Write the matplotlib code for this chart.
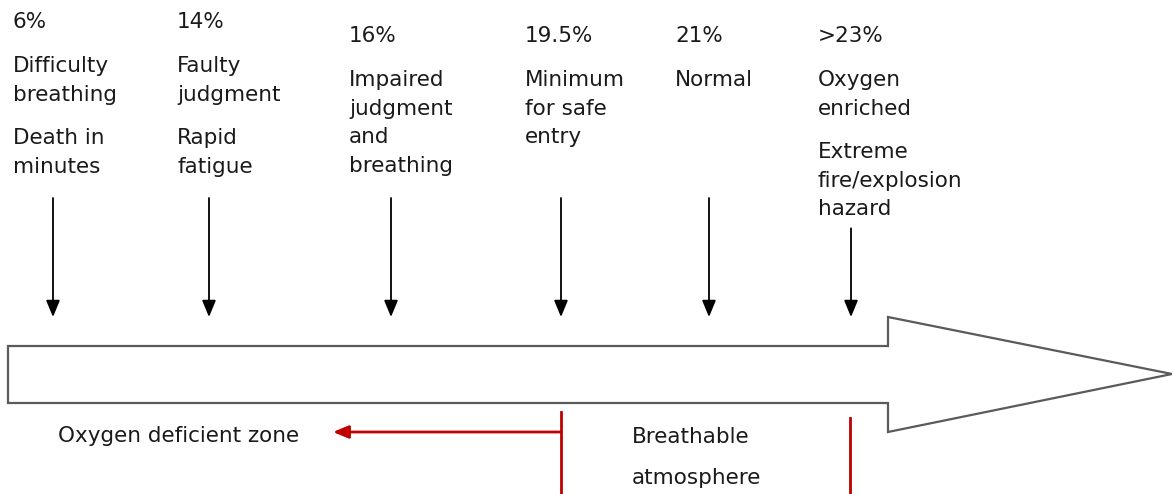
import matplotlib.pyplot as plt
from matplotlib.patches import Polygon

plt.rcParams.update({
    'font.family': 'DejaVu Sans',
    'font.size': 15.5,
})

# Oxygen levels and their effects
levels = ['6%', '14%', '16%', '19.5%', '21%', '>23%']
effects = [
    [['Difficulty', 'breathing'], ['Death in', 'minutes']],
    [['Faulty', 'judgment'], ['Rapid', 'fatigue']],
    [['Impaired', 'judgment', 'and', 'breathing']],
    [['Minimum', 'for safe', 'entry']],
    [['Normal']],
    [['Oxygen', 'enriched'], ['Extreme', 'fire/explosion', 'hazard']],
]
zones = ['Oxygen deficient zone', 'Breathable\n\natmosphere']

# layout (pixels)
text_x = [13, 177, 349, 525, 675, 818]
arrow_x = [53, 209, 391, 561, 709, 851]
y_shift = [0, 0, 14, 14, 14, 14]
TXT = '#1a1a1a'
RED = '#c00000'

fig = plt.figure(figsize=(11.72, 4.94), dpi=100)
ax = fig.add_axes([0, 0, 1, 1])
ax.set_xlim(0, 1172)
ax.set_ylim(494, 0)
ax.axis('off')

for lvl, eff, tx, axx, dy in zip(levels, effects, text_x, arrow_x, y_shift):
    ax.text(tx, 28 + dy, lvl, va='baseline', ha='left', color=TXT)
    y = 72 + dy
    for para in eff:
        for line in para:
            ax.text(tx, y, line, va='baseline', ha='left', color=TXT)
            last = y
            y += 28.7
        y += 14.5
    start = max(last + 13, 198)
    ax.annotate('', xy=(axx, 317), xytext=(axx, start),
                arrowprops=dict(arrowstyle='-|>,head_length=0.65,head_width=0.27',
                                color='black', lw=1.3, shrinkA=0, shrinkB=0))

# big horizontal arrow
body_top, body_bot = 346, 403
head_x, tip_x = 888, 1172
head_top, head_bot = 317, 432
pts = [(8, body_top), (head_x, body_top), (head_x, head_top), (tip_x, 374),
       (head_x, head_bot), (head_x, body_bot), (8, body_bot)]
ax.add_patch(Polygon(pts, closed=True, facecolor='white', edgecolor='#5a5a5a', lw=1.6))

# red zone markers
ax.plot([561, 561], [412, 494], color=RED, lw=2)
ax.plot([850, 850], [418, 494], color=RED, lw=2)
ax.annotate('', xy=(333, 432), xytext=(561, 432),
            arrowprops=dict(arrowstyle='-|>,head_length=0.6,head_width=0.25',
                            color=RED, lw=2, shrinkA=0, shrinkB=0))

ax.text(58, 436, zones[0], va='center', ha='left', color=TXT)
ax.text(632, 437, zones[1].split('\n')[0], va='center', ha='left', color=TXT)
ax.text(632, 478, zones[1].split('\n')[-1], va='center', ha='left', color=TXT)

plt.savefig('out.png', dpi=100)
